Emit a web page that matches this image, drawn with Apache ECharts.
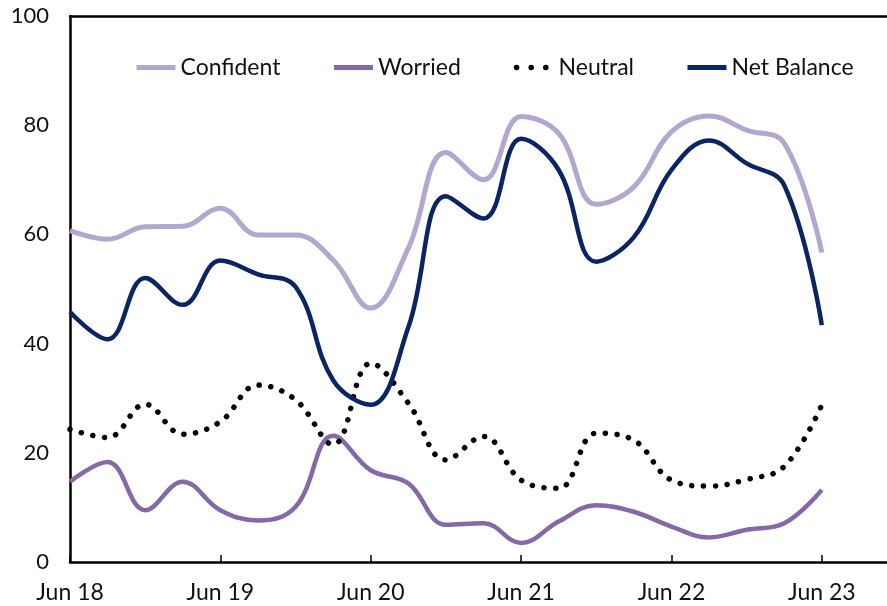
<!DOCTYPE html>
<html lang="en">
<head>
<meta charset="UTF-8">
<title>Confident / Worried / Neutral / Net Balance</title>
<script src="https://cdn.jsdelivr.net/npm/echarts@6/dist/echarts.min.js"></script>
<style>
  html, body { margin: 0; padding: 0; background: #fff; overflow: hidden; }
  #main { width: 887px; height: 606px; }
</style>
</head>
<body>
<div id="main"></div>
<script>
// quarterly observations, Jun 18 .. Jun 23 (index 0 = Jun 18)
var xTickLabels = ['Jun 18', 'Jun 19', 'Jun 20', 'Jun 21', 'Jun 22', 'Jun 23'];
var confident  = [60.7, 59.1, 61.4, 61.5, 64.8, 59.9, 59.9, 55.3, 46.5, 57.5, 75.0, 70.0, 81.6, 78.5, 65.5, 68.7, 78.8, 81.7, 79.1, 76.7, 56.7];
var worried    = [14.7, 18.3,  9.5, 14.7,  9.5,  7.6, 10.1, 23.1, 16.8, 14.4,  6.8,  7.1,  3.5,  7.4, 10.4,  9.2,  6.5,  4.5,  5.9,  7.1, 13.2];
var neutral    = [24.3, 22.8, 28.9, 23.4, 25.7, 32.4, 29.7, 21.5, 36.4, 29.1, 18.7, 23.0, 15.0, 13.5, 23.6, 22.3, 15.0, 13.9, 15.1, 17.5, 28.8];
var netBalance = [45.8, 40.8, 52.0, 47.1, 55.2, 52.7, 50.4, 33.3, 28.8, 43.0, 67.0, 62.9, 77.5, 71.8, 55.0, 59.5, 71.8, 77.2, 73.0, 69.0, 43.4];

function pairs(arr) {
    return arr.map(function (v, i) { return [i, v]; });
}

var font = 'Lato, "Open Sans", sans-serif';
var xMax = 22;   // axis runs a little past Jun 23, cut by the frame
var myChart = echarts.init(document.getElementById('main'));

var option = {
    backgroundColor: '#fff',
    animation: false,
    textStyle: { fontFamily: font },
    grid: { left: 70, right: -10, top: 16, bottom: 44, outerBoundsMode: 'none', containLabel: false },
    legend: {
        top: 51,
        left: 129,
        itemWidth: 39,
        itemHeight: 16,
        itemGap: 51,
        itemStyle: { opacity: 0 },
        lineStyle: { width: 5 },
        textStyle: { fontSize: 23, color: '#111', fontFamily: font },
        data: [
            { name: 'Confident' },
            { name: 'Worried' },
            { name: 'Neutral', lineStyle: { type: [0.1, 14.5], cap: 'round', width: 5.5, dashOffset: -2 } },
            { name: 'Net Balance' }
        ]
    },
    xAxis: [
        {
            type: 'value',
            min: 0, max: xMax, interval: 4,
            splitLine: { show: false },
            axisLine: { show: true, lineStyle: { color: '#000', width: 2.5 } },
            axisTick: { show: true, inside: true, length: 7, lineStyle: { color: '#000', width: 1.5 } },
            axisLabel: {
                margin: 19,
                fontSize: 23,
                color: '#111',
                fontFamily: font,
                formatter: function (v) { return v % 4 === 0 ? (xTickLabels[v / 4] || '') : ''; }
            }
        },
        {
            // top frame line
            type: 'value', position: 'top',
            min: 0, max: xMax,
            splitLine: { show: false },
            axisLine: { show: true, lineStyle: { color: '#000', width: 2.5 } },
            axisTick: { show: false },
            axisLabel: { show: false }
        }
    ],
    yAxis: {
        type: 'value',
        min: 0, max: 100, interval: 20,
        splitLine: { show: false },
        axisLine: { show: true, lineStyle: { color: '#000', width: 2.5 } },
        axisTick: { show: false },
        axisLabel: { margin: 21, fontSize: 22, color: '#111', fontFamily: font }
    },
    series: [
        {
            name: 'Confident', type: 'line', smooth: 0.4, symbol: 'none',
            data: pairs(confident),
            itemStyle: { color: '#b4a7cf' },
            lineStyle: { color: '#b4a7cf', width: 5 }
        },
        {
            name: 'Worried', type: 'line', smooth: 0.4, symbol: 'none',
            data: pairs(worried),
            itemStyle: { color: '#8668a9' },
            lineStyle: { color: '#8668a9', width: 4.5 }
        },
        {
            name: 'Neutral', type: 'line', smooth: 0.4, symbol: 'none',
            data: pairs(neutral),
            itemStyle: { color: '#000' },
            lineStyle: { color: '#000', width: 5.5, type: [0.1, 11.7], cap: 'round' }
        },
        {
            name: 'Net Balance', type: 'line', smooth: 0.4, symbol: 'none',
            data: pairs(netBalance),
            itemStyle: { color: '#0b2463' },
            lineStyle: { color: '#0b2463', width: 4.5 }
        }
    ]
};

myChart.setOption(option);
</script>
</body>
</html>
